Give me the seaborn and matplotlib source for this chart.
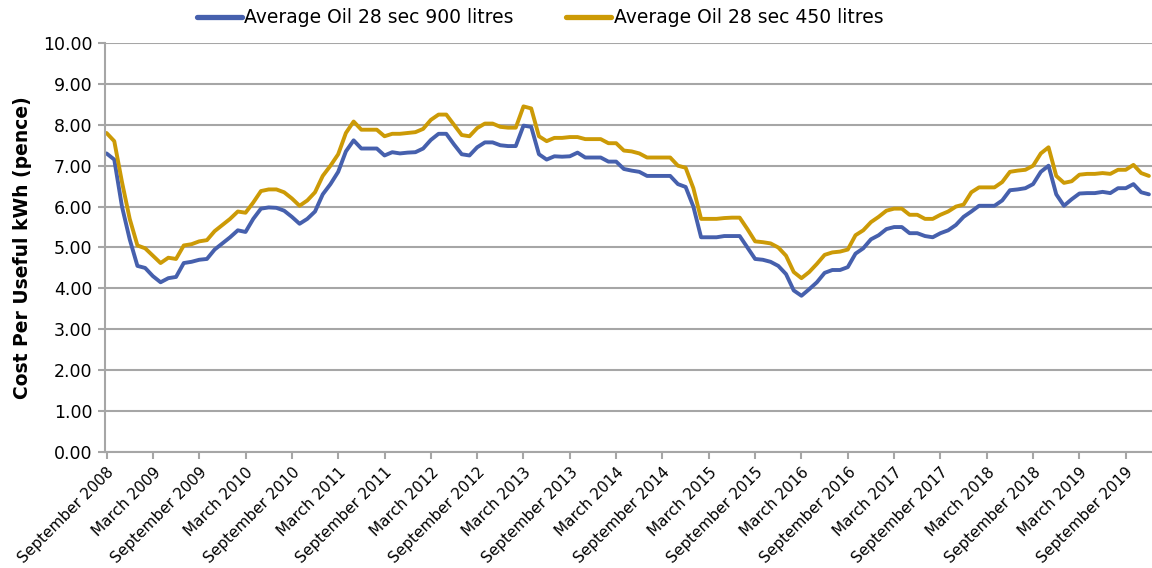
import pandas as pd
import matplotlib
matplotlib.use("Agg")
import matplotlib.pyplot as plt
import seaborn as sns

# monthly values, September 2008 .. December 2019
months = pd.date_range("2008-09-01", "2019-12-01", freq="MS")

oil_900 = [
    7.30, 7.15, 6.00, 5.20,
    4.55, 4.50, 4.30, 4.15, 4.25, 4.28, 4.62, 4.65, 4.70, 4.72, 4.95, 5.10,
    5.25, 5.42, 5.38, 5.70, 5.95, 5.98, 5.97, 5.90, 5.75, 5.58, 5.70, 5.88,
    6.30, 6.55, 6.85, 7.35, 7.62, 7.42, 7.42, 7.42, 7.25, 7.33, 7.30, 7.32,
    7.33, 7.42, 7.63, 7.78, 7.78, 7.52, 7.28, 7.25, 7.45, 7.57, 7.57, 7.50,
    7.48, 7.48, 7.98, 7.95, 7.28, 7.15, 7.23, 7.22, 7.23, 7.32, 7.20, 7.20,
    7.20, 7.10, 7.10, 6.92, 6.88, 6.85, 6.75, 6.75, 6.75, 6.75, 6.55, 6.48,
    6.00, 5.25, 5.25, 5.25, 5.28, 5.28, 5.28, 5.00, 4.72, 4.70, 4.65, 4.55,
    4.35, 3.95, 3.82, 3.98, 4.15, 4.38, 4.45, 4.45, 4.52, 4.85, 4.98, 5.20,
    5.30, 5.45, 5.50, 5.50, 5.35, 5.35, 5.28, 5.25, 5.35, 5.42, 5.55, 5.75,
    5.88, 6.02, 6.02, 6.02, 6.15, 6.40, 6.42, 6.45, 6.55, 6.85, 7.00, 6.30,
    6.02, 6.18, 6.32, 6.33, 6.33, 6.36, 6.33, 6.45, 6.45, 6.55, 6.35, 6.30,
]

oil_450 = [
    7.80, 7.60, 6.60, 5.70,
    5.05, 4.98, 4.80, 4.62, 4.75, 4.72, 5.05, 5.08, 5.15, 5.18, 5.40, 5.55,
    5.70, 5.88, 5.85, 6.10, 6.38, 6.42, 6.42, 6.35, 6.20, 6.02, 6.15, 6.35,
    6.75, 7.00, 7.28, 7.80, 8.08, 7.88, 7.88, 7.88, 7.72, 7.78, 7.78, 7.80,
    7.82, 7.90, 8.12, 8.25, 8.25, 8.00, 7.75, 7.72, 7.92, 8.03, 8.03, 7.95,
    7.93, 7.93, 8.45, 8.40, 7.72, 7.60, 7.68, 7.68, 7.70, 7.70, 7.65, 7.65,
    7.65, 7.55, 7.55, 7.37, 7.35, 7.30, 7.20, 7.20, 7.20, 7.20, 7.00, 6.95,
    6.45, 5.70, 5.70, 5.70, 5.72, 5.73, 5.73, 5.45, 5.15, 5.13, 5.10, 5.00,
    4.80, 4.40, 4.25, 4.40, 4.60, 4.82, 4.88, 4.90, 4.95, 5.30, 5.42, 5.62,
    5.75, 5.90, 5.95, 5.95, 5.80, 5.80, 5.70, 5.70, 5.80, 5.88, 6.00, 6.05,
    6.35, 6.47, 6.47, 6.47, 6.60, 6.85, 6.88, 6.90, 7.00, 7.30, 7.45, 6.75,
    6.58, 6.62, 6.78, 6.80, 6.80, 6.82, 6.80, 6.90, 6.90, 7.02, 6.82, 6.75,
]

series_names = ["Average Oil 28 sec 900 litres", "Average Oil 28 sec 450 litres"]
colors = ["#4660AD", "#CC9A06"]

df = pd.DataFrame({
    "idx": list(range(len(months))) * 2,
    "value": oil_900 + oil_450,
    "series": [series_names[0]] * len(months) + [series_names[1]] * len(months),
})

sns.set_style("white")
plt.rcParams["font.family"] = ["DejaVu Sans"]
plt.rcParams["text.color"] = "black"
plt.rcParams["axes.labelcolor"] = "black"
plt.rcParams["xtick.labelcolor"] = "black"
plt.rcParams["ytick.labelcolor"] = "black"

fig = plt.figure(figsize=(11.52, 5.68), dpi=100)
ax = fig.add_axes([105 / 1152, 1 - 452 / 568, 1 - 105 / 1152, (452 - 43) / 568])

sns.lineplot(data=df, x="idx", y="value", hue="series", palette=colors,
             linewidth=2.8, ax=ax, legend=False)

ax.set_xlim(-0.2, 135.4)
ax.set_ylim(0, 10)
ax.set_yticks([i for i in range(11)])
ax.set_yticklabels([f"{i:.2f}" for i in range(11)], fontsize=12.5)

tick_pos = list(range(0, len(months), 6))
ax.set_xticks(tick_pos)
ax.set_xticklabels([months[i].strftime("%B %Y") for i in tick_pos],
                   rotation=45, ha="right", rotation_mode="anchor", fontsize=11)

ax.grid(axis="y", color="#A6A6A6", linewidth=1.5)
ax.grid(axis="x", visible=False)
for s in ["top", "right"]:
    ax.spines[s].set_visible(False)
for s in ["left", "bottom"]:
    ax.spines[s].set_color("#A6A6A6")
    ax.spines[s].set_linewidth(1.5)
ax.tick_params(axis="both", direction="out", length=5, width=1.5, color="#A6A6A6",
               bottom=True, left=True, pad=4)
ax.set_axisbelow(True)

ax.set_xlabel("")
ax.set_ylabel("Cost Per Useful kWh (pence)", fontsize=13.5, fontweight="bold", labelpad=8)

handles = [plt.Line2D([], [], color=c, linewidth=3.8) for c in colors]
fig.legend(handles, series_names, loc="upper center", bbox_to_anchor=(0.469, 1.015),
           ncol=2, frameon=False, fontsize=13.5, handlelength=2.4,
           handletextpad=0.15, columnspacing=2.8)

fig.savefig("out.png", dpi=100)
